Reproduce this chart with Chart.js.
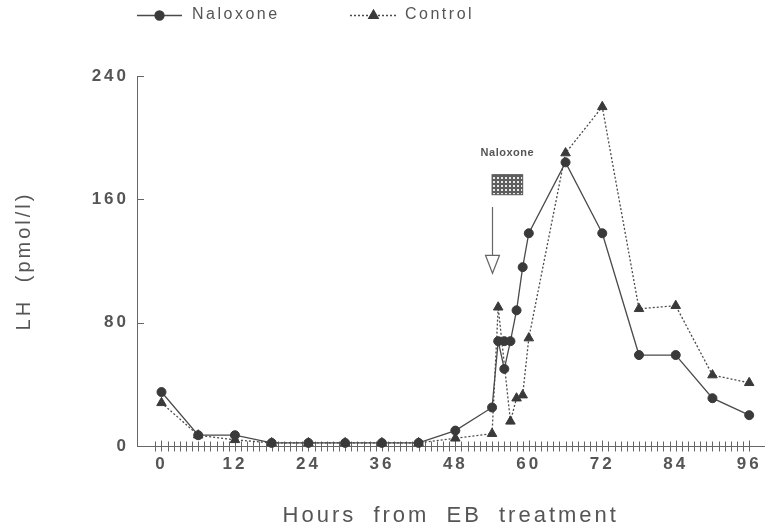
<!DOCTYPE html>
<html>
<head>
<meta charset="utf-8">
<script src="https://cdn.jsdelivr.net/npm/chart.js@4.4.1/dist/chart.umd.min.js"></script>
<style>
  html, body { margin: 0; padding: 0; background: #fff; }
  #wrap { width: 771px; height: 532px; }
</style>
</head>
<body>
<div id="wrap"><canvas id="chart" width="771" height="532"></canvas></div>
<script>
const naloxoneHours = [0, 6, 12, 18, 24, 30, 36, 42, 48, 54, 55, 56, 57, 58, 59, 60, 66, 72, 78, 84, 90, 96]
const naloxoneLH = [35, 7, 7, 2, 2, 2, 2, 2, 10, 25, 68, 50, 68, 88, 116, 138, 184, 138, 59, 59, 31, 20]
// second naloxone sample at 56 h that sits on the plateau
const naloxoneExtraHours = [56]
const naloxoneExtraLH = [68]
const controlHours = [0, 6, 12, 18, 24, 30, 36, 42, 48, 54, 55, 57, 58, 59, 60, 66, 72, 78, 84, 90, 96]
const controlLH = [28, 7, 4, 2, 2, 2, 2, 2, 5, 8, 90, 16, 31, 33, 70, 190, 220, 89, 91, 46, 41]
const xTickLabels = [0, 12, 24, 36, 48, 60, 72, 84, 96]
const yTickLabels = [0, 80, 160, 240]
// naloxone infusion marker, in hours / LH units
const infusionHours = [54, 59]
const infusionLH = [163, 176]
const infusionLabelLH = 190
const arrowHour = 54
const arrowLH = [155, 112]

const FONT = "'Liberation Sans', Arial, sans-serif"
const INK = '#555'
const LINE = '#4a4a4a'
const MARK = '#3a3a3a'

const toPoints = (xs, ys) => xs.map((x, i) => ({ x, y: ys[i] }))

// typewriter-ish spacing of the original figure
const spacing = {
  id: 'spacing',
  beforeLayout(chart) {
    chart.ctx.letterSpacing = '3px'
    chart.ctx.wordSpacing = '8px'
  },
  beforeDraw(chart) {
    chart.ctx.letterSpacing = '3px'
    chart.ctx.wordSpacing = '8px'
  },
}

// hourly ticks crossing the x axis, short inward ticks on y
const axisTicks = {
  id: 'axisTicks',
  beforeDatasetsDraw(chart) {
    const { ctx, scales: { x, y } } = chart
    const y0 = Math.round(y.getPixelForValue(0)) + 0.5
    ctx.save()
    ctx.strokeStyle = '#666'
    ctx.lineWidth = 1
    ctx.beginPath()
    for (let h = -1; h <= 96; h++) {
      const px = Math.round(x.getPixelForValue(h)) + 0.5
      const up = h % 12 === 0 ? 6 : 5
      ctx.moveTo(px, y0 - up)
      ctx.lineTo(px, y0 + 5)
    }
    yTickLabels.forEach(v => {
      if (v === 0) return
      const py = Math.round(y.getPixelForValue(v)) + 0.5
      ctx.moveTo(x.left, py)
      ctx.lineTo(x.left + 7, py)
    })
    ctx.stroke()
    ctx.restore()
  },
}

function hatch(ctx) {
  const tile = document.createElement('canvas')
  tile.width = 4
  tile.height = 4
  const t = tile.getContext('2d')
  t.fillStyle = '#5e5e5e'
  t.fillRect(0, 0, 4, 4)
  t.fillStyle = '#e8e8e8'
  t.fillRect(1, 1, 2, 2)
  return ctx.createPattern(tile, 'repeat')
}

const infusion = {
  id: 'infusion',
  afterDatasetsDraw(chart) {
    const { ctx, scales: { x, y } } = chart
    ctx.save()
    // hatched box
    const bx0 = x.getPixelForValue(infusionHours[0])
    const bx1 = x.getPixelForValue(infusionHours[1])
    const by0 = y.getPixelForValue(infusionLH[1])
    const by1 = y.getPixelForValue(infusionLH[0])
    ctx.fillStyle = hatch(ctx)
    ctx.fillRect(bx0, by0, bx1 - bx0, by1 - by0)
    ctx.strokeStyle = '#555'
    ctx.lineWidth = 1
    ctx.strokeRect(bx0, by0, bx1 - bx0, by1 - by0)

    // label
    ctx.letterSpacing = '0.5px'
    ctx.font = 'bold 11px ' + FONT
    ctx.fillStyle = INK
    ctx.textAlign = 'center'
    ctx.textBaseline = 'middle'
    ctx.fillText('Naloxone', (bx0 + bx1) / 2, y.getPixelForValue(infusionLabelLH))

    // hollow arrow
    const ax = Math.round(x.getPixelForValue(arrowHour)) + 0.5
    const top = y.getPixelForValue(arrowLH[0])
    const tip = y.getPixelForValue(arrowLH[1])
    const headH = 18
    const headW = 7
    ctx.strokeStyle = '#666'
    ctx.lineWidth = 1.2
    ctx.beginPath()
    ctx.moveTo(ax, top)
    ctx.lineTo(ax, tip - headH)
    ctx.stroke()
    ctx.beginPath()
    ctx.moveTo(ax - headW, tip - headH)
    ctx.lineTo(ax + headW, tip - headH)
    ctx.lineTo(ax, tip)
    ctx.closePath()
    ctx.fillStyle = '#fff'
    ctx.fill()
    ctx.stroke()
    ctx.restore()
  },
}

const topLegend = {
  id: 'topLegend',
  afterDraw(chart) {
    const { ctx } = chart
    const items = [
      { ds: chart.data.datasets[0], x0: 137, x1: 182, tx: 192 },
      { ds: chart.data.datasets[1], x0: 350, x1: 397, tx: 405 },
    ]
    const cy = 15
    ctx.save()
    items.forEach(({ ds, x0, x1, tx }) => {
      ctx.strokeStyle = ds.borderColor
      ctx.lineWidth = ds.borderWidth
      ctx.setLineDash(ds.borderDash || [])
      ctx.beginPath()
      ctx.moveTo(x0, cy + 0.5)
      ctx.lineTo(x1, cy + 0.5)
      ctx.stroke()
      ctx.setLineDash([])
      ctx.fillStyle = ds.pointBackgroundColor
      ctx.strokeStyle = ds.pointBorderColor
      Chart.helpers.drawPoint(ctx, {
        pointStyle: ds.pointStyle,
        radius: ds.pointRadius,
        rotation: 0,
        borderWidth: 1,
      }, (x0 + x1) / 2, cy + 0.5)
      ctx.letterSpacing = '2.5px'
      ctx.font = '16px ' + FONT
      ctx.fillStyle = INK
      ctx.textAlign = 'left'
      ctx.textBaseline = 'middle'
      ctx.fillText(ds.label, tx, cy)
    })
    ctx.restore()
  },
}

const ctx = document.getElementById('chart').getContext('2d')
Chart.defaults.font.family = FONT

new Chart(ctx, {
  type: 'line',
  data: {
    datasets: [
      {
        label: 'Naloxone',
        data: toPoints(naloxoneHours, naloxoneLH),
        borderColor: LINE,
        borderWidth: 1.3,
        pointStyle: 'circle',
        pointRadius: 4.5,
        pointBackgroundColor: MARK,
        pointBorderColor: MARK,
        pointBorderWidth: 1,
        tension: 0,
        clip: false,
      },
      {
        label: 'Control',
        data: toPoints(controlHours, controlLH),
        borderColor: LINE,
        borderWidth: 1.3,
        borderDash: [2, 2],
        pointStyle: 'triangle',
        pointRadius: 5.5,
        pointBackgroundColor: MARK,
        pointBorderColor: MARK,
        pointBorderWidth: 1,
        tension: 0,
        clip: false,
      },
      {
        label: 'Naloxone (repeat)',
        data: toPoints(naloxoneExtraHours, naloxoneExtraLH),
        showLine: false,
        pointStyle: 'circle',
        pointRadius: 4.5,
        pointBackgroundColor: MARK,
        pointBorderColor: MARK,
        clip: false,
      },
    ],
  },
  options: {
    responsive: false,
    animation: false,
    events: [],
    layout: { padding: { top: 76, left: 0, right: 0, bottom: 0 } },
    plugins: {
      legend: { display: false },
      tooltip: { enabled: false },
    },
    scales: {
      x: {
        type: 'linear',
        min: -4,
        max: 98.5,
        afterBuildTicks: s => { s.ticks = xTickLabels.map(v => ({ value: v })) },
        afterFit: s => { s.height = 86 },
        grid: { display: false, drawTicks: false },
        border: { display: true, color: '#666', width: 1 },
        ticks: {
          padding: 8,
          color: INK,
          autoSkip: false,
          maxRotation: 0,
          font: { size: 17, weight: 'bold' },
        },
        title: {
          display: true,
          text: 'Hours from EB treatment',
          color: INK,
          font: { size: 22 },
          padding: { top: 0, bottom: 3 },
        },
      },
      y: {
        type: 'linear',
        min: 0,
        max: 240,
        afterBuildTicks: s => { s.ticks = yTickLabels.map(v => ({ value: v })) },
        afterFit: s => { s.width = 137 },
        grid: { display: false, drawTicks: false },
        border: { display: true, color: '#666', width: 1 },
        ticks: {
          padding: 8,
          color: INK,
          font: { size: 17, weight: 'bold' },
        },
        title: {
          display: true,
          text: 'LH (pmol/l)',
          color: INK,
          font: { size: 20 },
          padding: { top: 12, bottom: 0 },
        },
      },
    },
  },
  plugins: [spacing, axisTicks, infusion, topLegend],
})
</script>
</body>
</html>
